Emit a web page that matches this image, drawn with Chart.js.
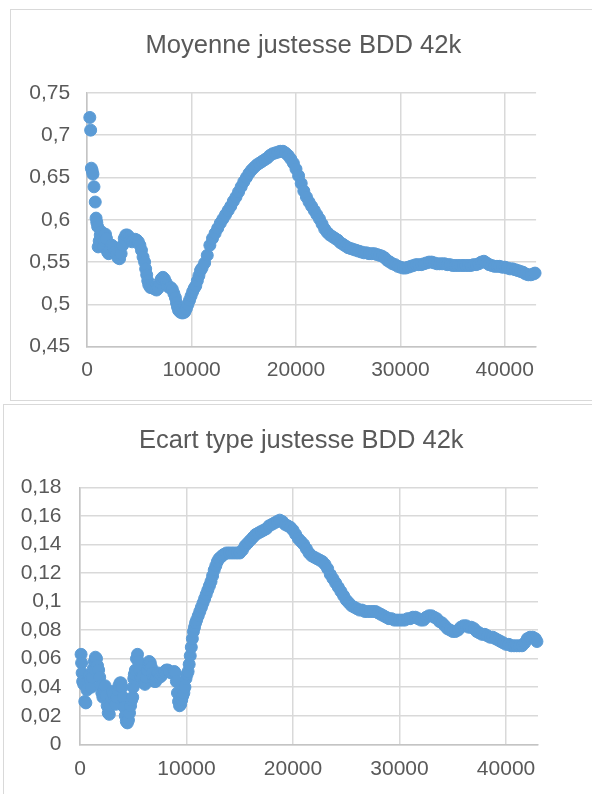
<!DOCTYPE html>
<html>
<head>
<meta charset="utf-8">
<script src="https://cdn.jsdelivr.net/npm/chart.js@4"></script>
<style>
  html, body { margin: 0; padding: 0; background: #fff; width: 592px; height: 794px; overflow: hidden; position: relative; }
  .frame { position: absolute; border: 1px solid #d9d9d9; background: #fff; }
  canvas { position: absolute; left: 0; }
</style>
</head>
<body>
<div class="frame" style="left:10px; top:9px; width:700px; height:390px;"></div>
<div class="frame" style="left:3px; top:404px; width:700px; height:500px;"></div>
<canvas id="c1" width="600" height="400" style="top:0px;"></canvas>
<canvas id="c2" width="604" height="394" style="top:400px;"></canvas>
<script>
// ---- Chart 1: Moyenne justesse BDD 42k ----
const title1 = "Moyenne justesse BDD 42k";
const x1 = [250,330,400,480,550,650,770,850,920,1000,1050,1150,1250,1350,1450,1550,1650,1750,1850,1950,2050,2200,2350,2500,2650,2800,2950,3100,3250,3400,3550,3700,3850,4000,4150,4300,4450,4600,4750,4900,5050,5200,5350,5500,5600,5700,5800,5900,6050,6200,6350,6500,6650,6800,6950,7100,7250,7400,7550,7700,7850,8000,8150,8300,8450,8550,8650,8750,8900,9050,9200,9350,9500,9650,9800,9950,10100,10250,10400,10550,10700,10850,11000,11250,11500,11750,12000,12250,12500,12750,13000,13250,13500,13750,14000,14250,14500,14750,15000,15250,15500,15750,16000,16250,16500,16750,17000,17250,17500,17750,18000,18250,18500,18750,19000,19250,19500,19750,20000,20250,20500,20750,21000,21250,21500,21750,22000,22250,22500,22750,23000,23250,23500,23750,24000,24250,24500,24750,25000,25250,25500,25750,26000,26250,26500,26750,27000,27250,27500,27750,28000,28250,28500,28750,29000,29250,29500,29750,30000,30250,30500,30750,31000,31250,31500,31750,32000,32250,32500,32750,33000,33250,33500,33750,34000,34250,34500,34750,35000,35250,35500,35750,36000,36250,36500,36750,37000,37250,37500,37750,38000,38250,38500,38750,39000,39250,39500,39750,40000,40250,40500,40750,41000,41250,41500,41750,42000,42250,42500,42750,42900];
const y1 = [0.721,0.706,0.661,0.658,0.654,0.639,0.621,0.602,0.597,0.592,0.568,0.575,0.582,0.586,0.578,0.568,0.575,0.583,0.578,0.562,0.560,0.566,0.570,0.568,0.562,0.560,0.555,0.554,0.560,0.570,0.578,0.582,0.582,0.580,0.576,0.574,0.576,0.577,0.576,0.574,0.570,0.564,0.556,0.550,0.542,0.535,0.528,0.523,0.520,0.520,0.519,0.518,0.517,0.519,0.526,0.530,0.532,0.530,0.526,0.522,0.520,0.520,0.518,0.513,0.508,0.502,0.497,0.493,0.491,0.490,0.490,0.491,0.495,0.500,0.505,0.510,0.515,0.519,0.522,0.528,0.534,0.540,0.543,0.549,0.558,0.570,0.578,0.584,0.590,0.596,0.601,0.606,0.611,0.616,0.622,0.627,0.633,0.639,0.645,0.650,0.655,0.659,0.662,0.665,0.667,0.669,0.671,0.673,0.676,0.678,0.679,0.680,0.681,0.681,0.679,0.676,0.672,0.667,0.660,0.652,0.643,0.634,0.627,0.621,0.616,0.611,0.606,0.601,0.595,0.589,0.585,0.582,0.580,0.578,0.576,0.573,0.571,0.569,0.567,0.566,0.565,0.564,0.563,0.562,0.561,0.561,0.560,0.560,0.560,0.559,0.558,0.557,0.555,0.552,0.550,0.548,0.547,0.545,0.544,0.543,0.543,0.544,0.545,0.546,0.547,0.547,0.547,0.548,0.549,0.550,0.550,0.549,0.548,0.548,0.548,0.548,0.547,0.547,0.546,0.546,0.546,0.546,0.546,0.546,0.546,0.546,0.547,0.547,0.548,0.550,0.551,0.549,0.547,0.546,0.545,0.545,0.545,0.544,0.544,0.543,0.542,0.542,0.541,0.540,0.539,0.538,0.536,0.535,0.535,0.536,0.537];
const yTickVals1 = [0.45,0.5,0.55,0.6,0.65,0.7,0.75];

// ---- Chart 2: Ecart type justesse BDD 42k ----
const title2 = "Ecart type justesse BDD 42k";
const x2 = [100,150,200,250,350,450,550,650,750,850,950,1050,1150,1250,1350,1450,1550,1650,1750,1850,1950,2050,2150,2250,2350,2450,2550,2650,2750,2850,2950,3050,3150,3250,3350,3450,3550,3650,3750,3850,3950,4050,4150,4250,4350,4450,4550,4650,4750,4850,4950,5000,5050,5100,5200,5300,5400,5500,5600,5700,5800,5900,6000,6100,6200,6300,6400,6500,6600,6700,6800,6900,7000,7100,7200,7300,7400,7500,7650,7800,7950,8100,8250,8400,8550,8700,8850,8950,9050,9150,9250,9350,9450,9550,9650,9750,9850,9950,10050,10150,10250,10350,10450,10550,10650,10750,10850,10950,11100,11250,11400,11550,11700,11850,12000,12150,12300,12450,12600,12750,12900,13050,13200,13350,13500,13750,14000,14250,14500,14750,15000,15250,15500,15750,16000,16250,16500,16750,17000,17250,17500,17750,18000,18250,18500,18750,19000,19250,19500,19750,20000,20250,20500,20750,21000,21250,21500,21750,22000,22250,22500,22750,23000,23250,23500,23750,24000,24250,24500,24750,25000,25250,25500,25750,26000,26250,26500,26750,27000,27250,27500,27750,28000,28250,28500,28750,29000,29250,29500,29750,30000,30250,30500,30750,31000,31250,31500,31750,32000,32250,32500,32750,33000,33250,33500,33750,34000,34250,34500,34750,35000,35250,35500,35750,36000,36250,36500,36750,37000,37250,37500,37750,38000,38250,38500,38750,39000,39250,39500,39750,40000,40250,40500,40750,41000,41250,41500,41750,42000,42250,42500,42750,42900];
const y2 = [0.063,0.057,0.050,0.044,0.042,0.030,0.029,0.038,0.044,0.048,0.045,0.040,0.047,0.053,0.058,0.061,0.060,0.055,0.052,0.047,0.041,0.036,0.033,0.038,0.041,0.034,0.027,0.022,0.021,0.027,0.033,0.037,0.035,0.030,0.028,0.033,0.038,0.041,0.043,0.043,0.040,0.033,0.026,0.020,0.016,0.015,0.017,0.022,0.027,0.031,0.033,0.040,0.046,0.049,0.052,0.060,0.063,0.058,0.052,0.047,0.046,0.048,0.043,0.042,0.047,0.052,0.056,0.058,0.057,0.054,0.050,0.046,0.044,0.044,0.047,0.050,0.049,0.047,0.048,0.050,0.051,0.052,0.052,0.051,0.050,0.050,0.051,0.050,0.044,0.036,0.030,0.027,0.028,0.031,0.034,0.036,0.040,0.046,0.049,0.051,0.056,0.062,0.068,0.074,0.079,0.082,0.085,0.087,0.090,0.093,0.096,0.099,0.102,0.105,0.108,0.111,0.114,0.118,0.122,0.125,0.128,0.130,0.131,0.132,0.133,0.134,0.134,0.134,0.134,0.134,0.134,0.136,0.139,0.141,0.143,0.145,0.147,0.148,0.149,0.150,0.151,0.153,0.154,0.155,0.156,0.157,0.156,0.154,0.153,0.152,0.150,0.147,0.144,0.142,0.140,0.137,0.134,0.132,0.131,0.130,0.129,0.128,0.126,0.123,0.119,0.116,0.113,0.110,0.107,0.104,0.101,0.099,0.097,0.096,0.095,0.094,0.094,0.093,0.093,0.093,0.093,0.093,0.092,0.091,0.090,0.089,0.088,0.088,0.087,0.087,0.087,0.087,0.087,0.088,0.088,0.089,0.089,0.088,0.087,0.087,0.089,0.090,0.090,0.089,0.088,0.086,0.085,0.083,0.081,0.080,0.079,0.079,0.080,0.082,0.083,0.083,0.082,0.082,0.081,0.079,0.078,0.077,0.077,0.076,0.075,0.075,0.074,0.073,0.072,0.071,0.070,0.070,0.069,0.069,0.069,0.069,0.069,0.071,0.074,0.075,0.075,0.074,0.072];
const yTickVals2 = [0,0.02,0.04,0.06,0.08,0.1,0.12,0.14,0.16,0.18];

const xTickVals = [0,10000,20000,30000,40000];
const xMax = 43000;

const BLUE = '#5b9bd5';
const TXT = '#595959';
const FONT = "'Liberation Sans', Arial, sans-serif";

function fmt(v) {
  return String(Math.round(v * 1000) / 1000).replace('.', ',');
}

function makeChart(id, title, xs, ys, yTickVals, L) {
  const pts = xs.map((x, i) => ({ x: x, y: ys[i] }));
  return new Chart(document.getElementById(id), {
    type: 'scatter',
    data: { datasets: [{
      data: pts,
      backgroundColor: BLUE,
      borderColor: BLUE,
      borderWidth: 1,
      pointRadius: 6,
      pointHoverRadius: 6,
      clip: false
    }]},
    options: {
      responsive: false,
      animation: false,
      events: [],
      layout: { padding: { left: L.pl, right: L.pr, top: 0, bottom: 0 } },
      plugins: {
        legend: { display: false },
        tooltip: { enabled: false },
        title: {
          display: true,
          text: title,
          color: TXT,
          font: { family: FONT, size: L.tsize, weight: 'normal', lineHeight: 1.2 },
          padding: { top: L.ta, bottom: L.tb }
        }
      },
      scales: {
        x: {
          type: 'linear',
          min: 0, max: xMax,
          afterBuildTicks: s => { s.ticks = xTickVals.map(v => ({ value: v })); },
          afterFit: s => { s.height = L.xh; },
          grid: { color: '#d9d9d9', lineWidth: 1.5, drawTicks: false },
          border: { color: '#c4c4c4', width: 1.5 },
          ticks: {
            padding: L.xpad,
            color: TXT,
            maxRotation: 0,
            autoSkip: false,
            font: { family: FONT, size: 21 },
            callback: v => String(v)
          }
        },
        y: {
          type: 'linear',
          min: yTickVals[0], max: yTickVals[yTickVals.length - 1],
          afterBuildTicks: s => { s.ticks = yTickVals.map(v => ({ value: v })); },
          afterFit: s => { s.width = L.yw; },
          grid: { color: '#d9d9d9', lineWidth: 1.5, drawTicks: false },
          border: { color: '#c4c4c4', width: 1.5 },
          ticks: {
            padding: L.ypad,
            color: TXT,
            autoSkip: false,
            font: { family: FONT, size: 21 },
            callback: v => fmt(v)
          }
        },
        spacer: {
          type: 'linear',
          axis: 'y',
          position: 'right',
          display: true,
          afterFit: s => { s.width = L.rw; },
          grid: { display: false, drawTicks: false },
          border: { display: false },
          ticks: { display: false }
        }
      }
    }
  });
}

makeChart('c1', title1, x1, y1, yTickVals1,
  { pl: 10, pr: 3.2, yw: 77.2, rw: 60.7, xh: 53.3, xpad: 11, ypad: 17, tsize: 25.6, ta: 31, tb: 31.2 });
makeChart('c2', title2, x2, y2, yTickVals2,
  { pl: 3, pr: 4.4, yw: 77, rw: 61.6, xh: 49.7, xpad: 12.5, ypad: 18.5, tsize: 25.5, ta: 25.3, tb: 31.4 });
</script>
</body>
</html>
